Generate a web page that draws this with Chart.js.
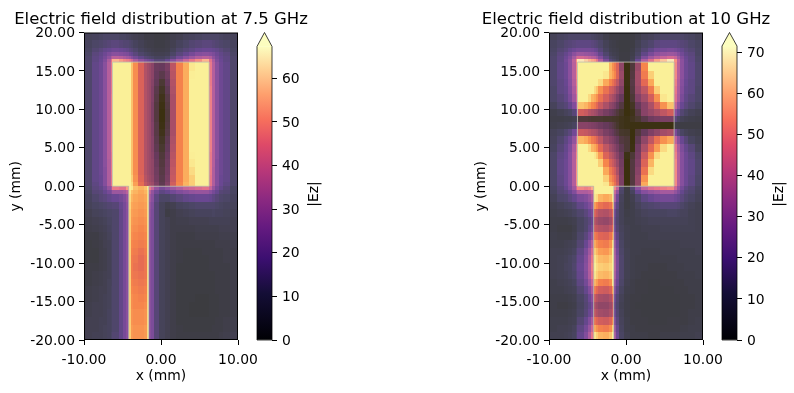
<!DOCTYPE html>
<html>
<head>
<meta charset="utf-8">
<script src="https://cdn.jsdelivr.net/npm/chart.js@4"></script>
<style>
  html, body { margin: 0; padding: 0; background: #fff; overflow: hidden; }
  canvas { position: absolute; top: 0; }
</style>
</head>
<body>
<canvas id="field1" width="322" height="393" style="left:0"></canvas>
<canvas id="field2" width="322" height="393" style="left:465px"></canvas>
<canvas id="bar1" width="90" height="393" style="left:240px"></canvas>
<canvas id="bar2" width="90" height="393" style="left:704px"></canvas>
<script>
// mesh edges in mm (the solver mesh is not uniform, finer around the metal)
const xEdges = [-10,-9,-8,-7.5,-7,-6.5,-6.3,-5.5,-4.9,-4.5,-4.2,-3.95,-3.6,-3,-2.2,-1.85,-1.6,-1.3,-0.9,-0.2,0.5,1.2,1.9,2.8,3.6,4.4,5.3,6.25,6.6,7,7.5,8,9,10];
const yEdges = [20,19,18,17.5,17,16.5,16.15,15,14,13,12,11,10,9.1,8.4,7.5,6.5,5.5,4.5,3.5,2.5,1.5,0.5,0,-0.5,-1,-2,-3,-4,-5,-6,-7,-8,-9,-10,-11,-12,-13,-14,-15,-16,-17,-18,-19,-20];

// |Ez|, one row per y cell, top to bottom
const field75 = [
[8,9,10,11,11,11,11,10,10,9,8,7,6,5,3,3,3,3,2,2,3,5,6,8,9,10,11,11,11,11,10,9,8],
[9,11,12,13,14,15,15,14,13,13,12,11,9,7,5,4,4,4,3,3,4,6,9,11,13,14,15,15,14,13,12,11,9],
[10,13,15,17,18,19,20,19,18,17,15,14,12,9,7,6,6,5,4,4,5,8,12,14,16,18,19,19,18,17,15,13,10],
[11,15,17,20,23,25,26,25,24,23,20,18,15,12,10,9,8,7,6,6,7,11,15,18,22,25,26,25,23,20,17,15,11],
[12,16,18,22,27,33,36,35,33,31,29,25,21,17,14,13,12,11,9,9,11,15,21,26,30,34,36,34,27,22,18,16,12],
[12,16,19,24,33,44,56,52,49,47,45,40,33,27,23,21,20,18,14,14,18,25,32,39,45,50,56,44,33,24,19,16,12],
[12,17,20,26,35,46,70,70,70,70,68,60,52,43,35,32,30,27,20,19,23,37,50,57,66,70,70,46,35,26,20,17,12],
[12,17,20,26,35,46,70,70,70,70,68,60,52,43,35,32,30,27,19,16,21,36,50,57,67,70,70,46,35,26,20,17,12],
[12,17,20,26,35,46,70,70,70,70,68,60,52,43,35,32,30,26,18,12,19,35,50,57,68,70,70,46,35,26,20,17,12],
[12,17,20,26,35,46,70,70,70,70,68,60,52,43,35,32,30,25,16,9,17,34,50,57,68,70,70,47,35,26,20,17,12],
[12,17,20,26,35,47,70,70,70,70,68,60,52,43,35,32,30,25,15,6,15,33,50,57,68,70,70,47,35,26,20,17,12],
[12,17,20,26,35,47,70,70,70,70,68,60,52,43,35,32,30,24,14,4,14,33,50,57,68,70,70,47,35,26,20,17,12],
[12,17,20,26,35,47,70,70,70,70,68,60,52,43,35,32,30,24,14,3,13,33,50,57,68,70,70,47,35,26,20,17,12],
[12,17,20,26,35,47,70,70,70,70,68,60,52,43,35,32,30,24,14,3,13,33,50,57,68,70,70,47,35,26,20,17,12],
[12,17,20,26,35,47,70,70,70,70,68,60,52,43,35,32,30,25,15,4,14,33,50,57,68,70,70,47,35,26,20,17,12],
[12,17,20,26,35,47,70,70,70,70,68,60,52,43,35,32,30,25,15,6,15,33,50,57,68,70,70,47,35,26,20,17,12],
[12,17,20,26,35,47,70,70,70,70,68,60,52,43,35,32,30,26,16,9,17,34,50,57,68,70,70,47,35,26,20,17,12],
[12,17,20,26,35,47,70,70,70,70,68,60,52,43,35,32,30,26,17,11,18,35,50,57,68,70,70,47,35,26,20,17,12],
[12,17,20,26,35,46,70,70,70,70,68,60,52,43,35,32,30,27,19,13,20,36,50,57,67,70,70,46,35,26,20,17,12],
[12,17,20,26,34,46,70,70,70,70,68,60,52,43,35,32,30,28,20,14,21,37,50,57,66,70,70,46,35,25,20,17,12],
[12,17,20,25,34,46,70,70,70,70,68,60,52,43,35,32,30,28,21,15,22,38,50,57,64,70,70,46,34,25,20,17,12],
[12,17,19,25,34,45,70,70,70,70,69,62,53,44,36,33,31,29,22,16,23,39,50,57,62,70,70,45,34,25,19,17,12],
[12,16,19,25,34,45,70,70,70,70,70,64,55,46,38,35,33,31,24,17,25,41,51,58,62,70,70,45,34,25,19,16,12],
[11,15,17,21,28,33,46,44,44,52,70,66,60,58,60,66,46,38,28,22,26,30,34,38,40,42,44,38,29,22,17,14,10],
[10,14,15,18,22,24,30,30,32,36,66,60,58,56,58,64,36,28,21,16,18,21,24,26,28,29,29,26,22,18,14,13,10],
[9,12,14,15,17,18,19,21,24,29,64,58,56,55,56,64,31,26,16,11,11,13,15,17,18,19,19,18,16,14,12,11,9],
[8,10,11,12,13,13,14,18,22,27,63,56,55,54,55,64,28,24,14,8,5,6,9,10,11,12,12,12,12,11,10,9,8],
[6,8,9,10,11,11,12,17,22,26,62,55,54,53,54,64,27,23,14,8,3,4,6,7,8,9,9,9,10,9,9,8,7],
[5,6,7,8,10,10,12,17,22,26,62,54,53,52,53,64,26,23,14,8,6,4,5,5,6,6,6,7,7,7,7,7,6],
[4,5,6,7,9,10,12,17,22,26,62,53,52,51,52,64,26,23,14,8,6,4,4,4,4,5,5,5,5,5,6,6,6],
[3,3,5,6,8,9,12,17,22,26,62,52,51,50,51,64,26,23,14,8,6,4,3,3,3,4,4,4,4,4,5,5,5],
[2,3,4,6,7,9,12,17,22,26,62,51,50,49,50,64,26,23,14,8,6,4,3,3,3,3,3,3,3,4,4,4,5],
[2,2,4,5,7,9,12,17,22,26,62,50,49,47,49,64,26,23,14,8,6,4,3,2,2,2,3,3,3,3,3,4,4],
[2,2,4,5,7,9,12,17,22,26,62,49,48,46,48,64,26,23,14,8,6,4,3,2,2,2,2,3,3,3,3,4,4],
[3,3,4,5,7,9,12,17,22,26,62,49,47,46,48,64,26,23,14,8,6,4,2,2,2,2,2,3,3,3,3,3,4],
[3,4,5,6,7,9,12,17,22,26,62,49,48,47,48,64,26,23,14,8,6,4,2,2,2,2,2,2,2,3,3,3,4],
[3,4,5,6,8,9,12,17,22,26,62,50,49,48,49,64,26,23,14,8,6,4,2,2,2,2,2,2,2,3,3,3,4],
[4,5,6,6,8,10,12,17,22,26,62,51,50,49,50,64,26,23,14,8,6,4,2,2,2,2,2,2,2,3,3,3,4],
[4,5,6,7,8,10,12,17,22,26,62,52,51,50,51,64,26,23,14,8,6,4,2,2,2,1,1,2,2,2,3,3,4],
[5,6,6,7,8,10,12,17,22,26,62,52,51,51,52,64,26,23,14,8,6,4,2,2,1,1,1,2,2,2,3,3,4],
[5,6,6,7,9,10,12,17,22,26,62,53,52,52,53,64,26,23,14,8,6,4,2,2,1,1,1,2,2,2,3,3,4],
[6,6,7,7,9,10,12,17,22,26,62,53,52,52,53,64,26,23,14,8,6,4,2,2,2,2,2,2,2,3,3,4,5],
[6,6,7,8,9,10,12,17,22,26,62,54,53,53,54,64,26,23,14,8,6,4,3,2,2,2,2,2,3,3,3,4,5],
[6,7,7,8,9,11,13,17,22,26,62,54,53,53,54,64,26,23,14,8,6,4,3,3,3,3,3,3,3,3,4,5,6]
];

const field10 = [
[8,10,11,12,12,12,12,12,12,11,10,9,8,5,3,3,3,3,2,2,3,5,8,9,11,12,12,12,12,12,11,10,8],
[10,12,14,15,16,17,17,17,17,16,15,14,12,8,5,4,4,3,2,2,3,7,11,13,16,17,17,17,16,15,14,12,10],
[11,14,16,19,21,23,23,23,23,22,20,19,15,10,6,5,5,4,2,2,4,9,14,18,22,23,24,23,21,19,16,14,11],
[12,16,19,23,28,31,32,31,30,29,27,25,19,13,8,6,6,5,3,3,5,11,18,24,29,31,32,31,27,22,18,16,11],
[13,17,21,26,34,41,44,42,40,38,37,33,26,17,11,9,8,6,3,3,6,14,25,33,38,41,44,41,33,26,20,17,12],
[13,17,22,28,39,54,68,64,60,57,55,48,36,24,15,12,11,8,3,3,8,20,36,46,56,62,68,54,39,28,21,17,12],
[13,18,21,28,38,52,76,76,76,76,76,76,76,72,62,56,52,46,30,4,14,32,54,72,76,76,76,52,38,28,21,18,13],
[13,18,21,28,38,52,76,76,76,76,76,76,76,70,62,58,54,46,32,4,15,34,52,66,76,76,76,52,38,28,21,18,13],
[13,17,20,27,37,50,76,76,76,76,76,74,68,60,54,50,46,40,30,4,16,34,48,60,76,76,76,50,37,27,20,17,13],
[12,17,19,26,35,48,76,76,76,72,68,64,56,50,44,42,38,32,26,3,15,32,40,52,66,76,76,48,36,26,19,17,12],
[12,15,18,24,33,44,76,74,68,62,60,56,50,44,38,35,32,26,20,3,13,27,34,44,56,70,76,46,35,24,18,15,12],
[9,13,15,19,26,36,64,62,58,54,52,48,42,36,30,28,25,20,15,3,9,20,28,36,46,56,64,40,29,20,16,13,10],
[5,7,9,11,15,22,44,42,38,36,34,32,28,24,21,19,17,14,10,3,6,16,28,32,36,40,44,28,20,14,11,8,6],
[4,4,5,5,6,8,14,14,13,12,12,12,12,11,11,10,10,9,7,5,8,12,17,22,24,25,25,16,11,8,6,5,4],
[5,6,7,8,10,15,28,28,27,26,25,24,22,20,18,16,14,11,7,5,4,4,4,4,4,4,4,4,3,3,3,3,3],
[8,10,13,16,22,28,42,41,39,37,36,34,30,25,22,20,17,15,11,10,3,14,20,26,30,34,36,24,16,11,8,6,5],
[9,13,17,22,30,42,62,60,56,52,50,46,40,32,28,26,23,20,15,13,3,18,30,40,50,56,60,40,29,20,15,10,7],
[10,15,19,25,35,50,76,74,68,62,60,56,48,40,34,31,28,24,18,13,4,22,36,48,58,68,74,48,35,25,19,15,9],
[12,17,20,27,37,52,76,76,76,74,70,66,58,46,40,37,33,28,21,5,13,24,42,56,68,76,76,50,37,27,21,17,12],
[12,18,21,27,37,54,76,76,76,76,76,74,66,54,46,42,38,32,23,3,15,26,46,62,76,76,76,52,37,27,21,18,13],
[12,18,21,27,37,54,76,76,76,76,76,76,72,60,52,48,44,36,24,3,15,28,50,68,76,76,76,52,37,27,21,18,13],
[12,17,21,27,37,54,76,76,76,76,76,76,76,66,56,52,48,40,25,3,15,30,56,74,76,76,76,52,37,27,21,17,12],
[12,17,21,27,37,54,76,76,76,76,76,76,76,70,60,56,50,42,25,3,15,30,60,76,76,76,76,52,37,27,21,17,12],
[11,15,19,25,33,42,52,50,52,58,74,76,76,76,76,76,52,40,14,3,14,28,40,46,48,50,52,42,31,23,17,14,10],
[10,14,16,20,26,30,36,36,38,42,74,76,76,76,76,74,42,30,12,3,10,20,27,30,32,34,34,30,25,19,15,13,9],
[8,12,13,16,19,20,24,26,30,36,70,68,62,60,62,70,36,22,9,3,6,12,17,20,22,23,23,21,19,16,13,11,8],
[6,8,10,11,13,15,18,21,25,30,58,54,50,48,50,60,26,17,8,3,5,9,12,13,14,15,15,15,14,12,10,8,6],
[5,6,7,8,10,11,13,16,20,24,46,42,38,37,40,48,20,14,8,4,5,7,9,10,10,10,11,11,10,9,9,7,6],
[4,4,4,5,6,7,10,13,16,20,38,35,32,31,34,42,18,13,8,5,5,6,7,8,8,8,8,8,8,8,8,7,6],
[4,3,3,3,5,6,10,13,18,23,42,40,38,37,40,48,20,14,9,6,5,5,6,6,6,7,7,7,7,7,7,7,6],
[5,4,4,4,6,7,12,16,22,30,52,50,47,46,50,58,25,17,10,6,5,5,5,6,6,6,6,6,6,6,6,6,6],
[5,5,6,7,8,10,14,20,28,38,60,56,53,52,56,68,30,20,11,6,5,5,5,5,5,5,5,5,5,6,6,6,6],
[6,6,7,8,10,13,17,24,33,44,66,62,58,57,61,74,34,22,12,7,5,5,4,4,4,5,5,5,5,5,5,5,6],
[6,7,8,10,12,15,19,26,36,48,70,66,63,62,65,76,36,24,13,7,5,4,4,4,4,4,4,4,5,5,5,5,5],
[6,7,9,10,13,16,20,27,37,50,72,68,66,65,67,76,37,24,13,7,5,4,4,3,3,3,4,4,4,4,5,5,5],
[6,7,8,10,12,15,19,26,36,48,70,66,63,62,64,76,35,23,13,7,5,4,3,3,3,3,3,3,4,4,4,4,5],
[5,6,7,8,10,13,17,23,32,42,62,58,53,52,55,70,31,21,12,6,4,3,3,2,2,3,3,3,3,3,4,4,4],
[5,5,6,7,8,10,14,19,26,36,52,48,44,43,46,58,26,17,10,5,4,3,3,2,2,2,2,3,3,3,3,4,4],
[4,4,4,5,6,8,11,15,21,28,42,38,35,34,37,46,20,14,8,4,3,3,2,2,2,2,2,2,2,3,3,3,4],
[4,3,3,4,5,7,10,14,18,24,36,33,30,30,33,40,18,13,7,4,3,2,2,2,2,2,2,2,2,3,3,3,4],
[4,4,4,5,6,8,11,15,20,26,40,37,34,33,36,42,20,14,8,4,3,3,2,2,2,2,2,2,2,3,3,4,4],
[5,5,5,6,7,9,14,19,26,35,50,47,44,43,46,54,24,16,9,5,3,3,3,2,2,2,3,3,3,3,3,4,5],
[5,6,6,7,9,12,17,23,31,42,60,56,53,52,55,66,30,19,10,5,4,3,3,3,3,3,3,3,3,4,4,5,5],
[6,6,7,8,10,13,19,26,36,48,70,66,62,61,64,76,34,21,11,6,4,4,4,3,3,4,4,4,4,5,5,5,6]
];

// metal outline in mm, and tick positions
const patchOutline = [[-6.3,16.15],[6.25,16.15],[6.25,0],[-1.6,0],[-1.6,-20],[-4.2,-20],[-4.2,0],[-6.3,0]];
const xTicks = [-10, 0, 10];
const yTicks = [-20,-15,-10,-5,0,5,10,15,20];
const barTicks75 = [0,10,20,30,40,50,60];
const barTicks10 = [0,10,20,30,40,50,60,70];

// magma stops, evenly spaced from 0 to 1
const magma = [[0,0,4],[20,14,54],[59,15,112],[100,26,128],[140,41,129],[183,55,121],[222,73,104],[247,112,92],[254,159,109],[254,207,146],[252,253,191]];
const GAMMA = 1.25;
const FONT = "'DejaVu Sans'";
const TICK_SIZE = 13.9;

function magmaColor(v, vmax) {
  const f = Math.pow(Math.min(Math.max(v / vmax, 0), 1), GAMMA) * (magma.length - 1);
  const i = Math.min(Math.floor(f), magma.length - 2);
  const t = f - i;
  const c = magma[i].map((a, k) => Math.round(a + (magma[i + 1][k] - a) * t));
  return "rgb(" + c.join(",") + ")";
}

// draws the gold metal, the field cells and the outline under the axes
const fieldPlugin = {
  id: "fieldCells",
  beforeDatasetsDraw(chart) {
    const { ctx, chartArea: a, scales: { x, y } } = chart;
    const rows = chart.options.plugins.fieldCells.rows;
    const vmax = chart.options.plugins.fieldCells.vmax;
    const tracePatch = () => {
      ctx.beginPath();
      patchOutline.forEach((p, i) => {
        const px = x.getPixelForValue(p[0]), py = y.getPixelForValue(p[1]);
        if (i === 0) ctx.moveTo(px, py); else ctx.lineTo(px, py);
      });
      ctx.closePath();
    };
    ctx.save();
    ctx.beginPath();
    ctx.rect(a.left, a.top, a.width, a.height);
    ctx.clip();
    ctx.fillStyle = "#fff";
    ctx.fillRect(a.left, a.top, a.width, a.height);
    tracePatch();
    ctx.fillStyle = "rgb(243,200,25)";
    ctx.fill();
    ctx.globalAlpha = 0.77;
    rows.forEach((row, j) => {
      const y0 = Math.round(y.getPixelForValue(yEdges[j]));
      const y1 = Math.round(y.getPixelForValue(yEdges[j + 1]));
      row.forEach((v, i) => {
        const x0 = Math.round(x.getPixelForValue(xEdges[i]));
        const x1 = Math.round(x.getPixelForValue(xEdges[i + 1]));
        ctx.fillStyle = magmaColor(v, vmax);
        ctx.fillRect(x0, y0, x1 - x0, y1 - y0);
      });
    });
    ctx.globalAlpha = 1;
    tracePatch();
    ctx.strokeStyle = "rgba(190,190,175,0.85)";
    ctx.lineWidth = 1;
    ctx.stroke();
    ctx.restore();
  },
  afterDraw(chart) {
    const { ctx, chartArea: a } = chart;
    ctx.save();
    ctx.strokeStyle = "#000";
    ctx.lineWidth = 1;
    ctx.strokeRect(a.left + 0.5, a.top + 0.5, a.width - 1, a.height - 1);
    ctx.restore();
  }
};

function makeField(id, title, rows, vmax, sideWidth) {
  const points = [];
  rows.forEach((row, j) => row.forEach((v, i) => {
    points.push({ x: (xEdges[i] + xEdges[i + 1]) / 2, y: (yEdges[j] + yEdges[j + 1]) / 2, v: v });
  }));
  const tickFont = { family: FONT, size: TICK_SIZE };
  return new Chart(document.getElementById(id), {
    type: "scatter",
    data: { datasets: [{ label: "|Ez|", data: points, pointRadius: 0, pointHoverRadius: 0 }] },
    plugins: [fieldPlugin],
    options: {
      responsive: false,
      animation: false,
      plugins: {
        legend: { display: false },
        tooltip: { enabled: false },
        title: {
          display: true, text: title, color: "#000",
          font: { family: FONT, size: 16.5, weight: "normal", lineHeight: 1.2 },
          padding: { top: 10, bottom: 2.7 }
        },
        fieldCells: { rows: rows, vmax: vmax }
      },
      scales: {
        x: {
          type: "linear", min: -10, max: 10,
          afterBuildTicks: s => { s.ticks = xTicks.map(v => ({ value: v })); },
          afterFit: s => { s.height = 53; },
          border: { display: false },
          grid: { drawOnChartArea: false, tickLength: 5, tickColor: "#000", tickWidth: 1 },
          ticks: { color: "#000", font: tickFont, padding: 7, maxRotation: 0, callback: v => v.toFixed(2) },
          title: { display: true, text: "x (mm)", color: "#000", font: tickFont, padding: { top: 0, bottom: 8 } }
        },
        y: {
          type: "linear", min: -20, max: 20,
          afterBuildTicks: s => { s.ticks = yTicks.map(v => ({ value: v })); },
          afterFit: s => { s.width = sideWidth; },
          border: { display: false },
          grid: { drawOnChartArea: false, tickLength: 5, tickColor: "#000", tickWidth: 1 },
          ticks: { color: "#000", font: tickFont, padding: 4, labelOffset: 1, autoSkip: false, callback: v => v.toFixed(2) },
          title: { display: true, text: "y (mm)", color: "#000", font: tickFont, padding: { top: 8, bottom: 0 } }
        },
        // empty right axis, keeps the plot centred under its title
        side: {
          type: "linear", position: "right", min: -20, max: 20,
          afterFit: s => { s.width = sideWidth; },
          border: { display: false },
          grid: { display: false },
          ticks: { display: false }
        }
      }
    }
  });
}

// colorbar outline with the pointed top, and its rotated label
const colorbarPlugin = {
  id: "colorbarTop",
  afterDatasetsDraw(chart) {
    const { ctx, chartArea: a, scales: { y } } = chart;
    const o = chart.options.plugins.colorbarTop;
    const top = y.getPixelForValue(o.vmax), base = y.getPixelForValue(0);
    const mid = (a.left + a.right) / 2;
    ctx.save();
    ctx.beginPath();
    ctx.moveTo(a.left, top);
    ctx.lineTo(mid, y.getPixelForValue(y.max));
    ctx.lineTo(a.right, top);
    ctx.closePath();
    ctx.fillStyle = "rgb(252,253,191)";
    ctx.fill();
    ctx.beginPath();
    ctx.moveTo(a.left, base);
    ctx.lineTo(a.left, top);
    ctx.lineTo(mid, y.getPixelForValue(y.max));
    ctx.lineTo(a.right, top);
    ctx.lineTo(a.right, base);
    ctx.closePath();
    ctx.strokeStyle = "rgba(0,0,0,0.75)";
    ctx.lineWidth = 1;
    ctx.stroke();
    ctx.translate(o.labelX, 194);
    ctx.rotate(-Math.PI / 2);
    ctx.fillStyle = "#000";
    ctx.font = TICK_SIZE + "px " + FONT;
    ctx.textAlign = "center";
    ctx.textBaseline = "middle";
    ctx.fillText("|Ez|", 0, 0);
    ctx.restore();
  }
};

function makeBar(id, vmax, axisMax, ticks, left, labelX) {
  return new Chart(document.getElementById(id), {
    type: "bar",
    data: {
      labels: ["|Ez|"],
      datasets: [{
        data: [[0, vmax]],
        barPercentage: 1,
        categoryPercentage: 1,
        backgroundColor: c => {
          const area = c.chart.chartArea;
          if (!area) return "#000";
          const y = c.chart.scales.y;
          const g = c.chart.ctx.createLinearGradient(0, y.getPixelForValue(0), 0, y.getPixelForValue(vmax));
          magma.forEach((m, i) => {
            g.addColorStop(Math.pow(i / (magma.length - 1), 1 / GAMMA), "rgb(" + m.join(",") + ")");
          });
          return g;
        }
      }]
    },
    plugins: [colorbarPlugin],
    options: {
      responsive: false,
      animation: false,
      layout: { padding: { left: left, top: 32.5, bottom: 53 } },
      plugins: {
        legend: { display: false },
        tooltip: { enabled: false },
        colorbarTop: { vmax: vmax, labelX: labelX }
      },
      scales: {
        x: { display: false },
        y: {
          position: "right", min: 0, max: axisMax,
          afterBuildTicks: s => { s.ticks = ticks.map(v => ({ value: v })); },
          afterFit: s => { s.width = 90 - left - 15; },
          border: { display: false },
          grid: { drawOnChartArea: false, tickLength: 5, tickColor: "#000", tickWidth: 1 },
          ticks: { color: "#000", font: { family: FONT, size: TICK_SIZE }, padding: 5, labelOffset: 1 }
        }
      }
    }
  });
}

makeField("field1", "Electric field distribution at 7.5 GHz", field75, 67.3, 84);
makeField("field2", "Electric field distribution at 10 GHz", field10, 71.6, 84);
makeBar("bar1", 67.3, 70.5, barTicks75, 17, 74);
makeBar("bar2", 71.6, 74.9, barTicks10, 18, 75);
</script>
</body>
</html>
